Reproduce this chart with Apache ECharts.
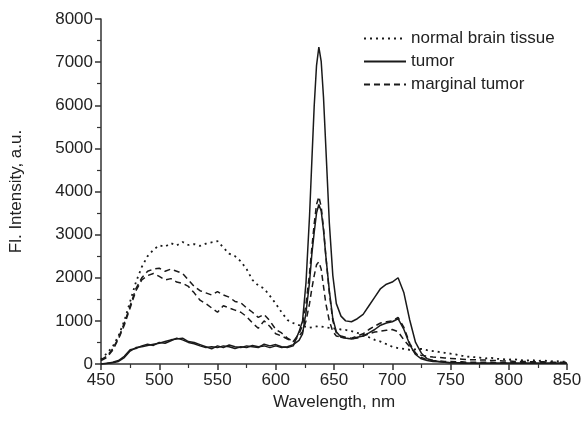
<!DOCTYPE html>
<html><head><meta charset="utf-8">
<script src="https://cdn.jsdelivr.net/npm/echarts@6/dist/echarts.min.js"></script>
<style>html,body{margin:0;padding:0;background:#fff}#c{width:586px;height:425px}</style>
</head><body><div id="c"></div>
<script>
var wavelength = [450,455,460,465,470,475,480,485,490,495,500,505,510,515,520,525,530,535,540,545,550,555,560,565,570,575,580,585,590,595,600,605,610,615,
620,623,626,629,631,633,635,637,639,641,643,646,649,652,656,
660,665,670,675,680,685,690,695,700,705,710,715,720,725,730,735,740,745,750,755,760,765,770,775,780,785,790,795,800,805,810,815,820,825,830,835,840,845,850];

var normalTissue = [100,250,400,650,1000,1450,1900,2250,2500,2650,2750,2720,2800,2750,2830,2760,2780,2740,2790,2820,2850,2700,2560,2500,2380,2200,1950,1820,1750,1580,1400,1200,1020,950,
900,880,860,840,850,860,870,880,870,860,850,840,830,820,800,
790,760,720,680,620,560,520,460,400,370,350,330,340,350,320,300,280,260,240,220,190,170,160,150,130,140,120,110,100,110,90,80,90,70,80,60,70,50,60];

var tumorA = [0,20,30,60,150,300,380,400,430,460,480,520,560,580,600,520,500,450,400,350,420,380,440,400,380,420,400,380,460,420,450,400,380,420,
750,1000,1900,3430,4720,5980,6920,7350,7020,6180,5020,3270,2050,1400,1110,
1000,980,1050,1150,1350,1550,1750,1850,1900,2000,1650,1020,500,250,120,80,60,40,30,30,20,20,20,20,20,20,20,20,20,20,20,20,20,20,20,20,20,20,20];

var tumorB = [0,10,40,80,180,330,360,420,460,430,500,480,540,600,560,500,470,420,380,400,380,420,400,360,400,380,430,400,420,380,420,380,400,450,
550,700,1200,1900,2550,3050,3500,3700,3550,3100,2500,1700,1050,750,620,
600,580,620,650,720,800,900,950,980,1050,800,450,220,120,80,60,50,40,30,30,30,20,20,20,20,20,20,20,20,20,20,20,20,20,20,20,20,20,20];

var marginalA = [100,180,350,600,950,1350,1750,2000,2150,2200,2220,2150,2200,2150,2100,1950,1800,1700,1650,1600,1680,1600,1550,1450,1420,1300,1200,1080,1150,1000,800,720,600,520,
700,900,1400,2100,2700,3250,3700,3880,3650,3150,2500,1650,1000,720,650,
620,600,650,700,800,880,950,980,1000,1080,850,480,250,150,100,80,70,60,60,50,50,40,40,40,40,40,30,30,30,30,30,30,30,30,30,30,30,30,30];

var marginalB = [80,150,320,580,900,1300,1700,1950,2050,2100,2030,1950,1980,1900,1870,1800,1650,1480,1400,1300,1200,1350,1300,1250,1200,1100,950,830,1000,870,700,650,580,520,
650,750,1000,1400,1750,2050,2300,2370,2200,1800,1400,1000,750,650,620,
600,580,600,650,700,740,760,780,800,750,560,400,250,200,180,160,150,140,130,120,110,100,100,90,90,80,80,70,70,60,60,60,50,50,50,40,40,40,40];

var xTicks = [450,500,550,600,650,700,750,800,850];
var yTicks = [0,1000,2000,3000,4000,5000,6000,7000,8000];

function pairs(vals){ return wavelength.map(function(w,i){ return [w, vals[i]]; }); }

var ink = '#1a1a1a';
var dotted = [2, 4];
var dashed = [6, 4];
function mk(name, vals, type, w){
  return {name:name, type:'line', data:pairs(vals), symbol:'none', showSymbol:false, smooth:false,
    lineStyle:{color:ink, width:w, type:type}, itemStyle:{color:ink}};
}

var chart = echarts.init(document.getElementById('c'), null, {renderer:'canvas'});
chart.setOption({
  animation:false,
  backgroundColor:'#fff',
  textStyle:{fontFamily:'Liberation Sans, Arial, sans-serif'},
  grid:{left:101, right:19, top:19, bottom:61, containLabel:false},
  legend:{
    show:true, orient:'vertical', left:358, top:25, itemWidth:42, itemHeight:14, itemGap:6,
    data:['normal brain tissue','tumor','marginal tumor'],
    itemStyle:{opacity:0, color:'transparent', borderWidth:0},
    textStyle:{fontSize:17, color:'#222'}
  },
  xAxis:{
    type:'value', min:xTicks[0], max:xTicks[xTicks.length-1], interval:50,
    name:'Wavelength, nm', nameLocation:'middle', nameGap:27,
    nameTextStyle:{fontSize:17, color:'#222'},
    axisLine:{lineStyle:{color:'#333', width:1.5}},
    axisTick:{show:true, length:6, lineStyle:{color:'#333', width:1.5}},
    minorTick:{show:true, splitNumber:2, length:4, lineStyle:{color:'#333', width:1.2}},
    axisLabel:{fontSize:17, color:'#222', margin:8, formatter:function(v){return String(v);}},
    splitLine:{show:false}
  },
  yAxis:{
    type:'value', min:yTicks[0], max:yTicks[yTicks.length-1], interval:1000,
    name:'Fl. Intensity, a.u.', nameLocation:'middle', nameGap:76, nameRotate:90,
    nameTextStyle:{fontSize:17, color:'#222'},
    axisLine:{show:true, lineStyle:{color:'#333', width:1.5}},
    axisTick:{show:true, length:6, lineStyle:{color:'#333', width:1.5}},
    minorTick:{show:true, splitNumber:2, length:4, lineStyle:{color:'#333', width:1.2}},
    axisLabel:{fontSize:17, color:'#222', margin:8, formatter:function(v){return String(v);}},
    splitLine:{show:false}
  },
  series:[
    mk('normal brain tissue', normalTissue, dotted, 1.8),
    mk('tumor', tumorA, 'solid', 1.5),
    mk('marginal tumor', marginalA, dashed, 1.5),
    mk('tumor', tumorB, 'solid', 1.5),
    mk('marginal tumor', marginalB, dashed, 1.5)
  ]
});
</script>
</body></html>
